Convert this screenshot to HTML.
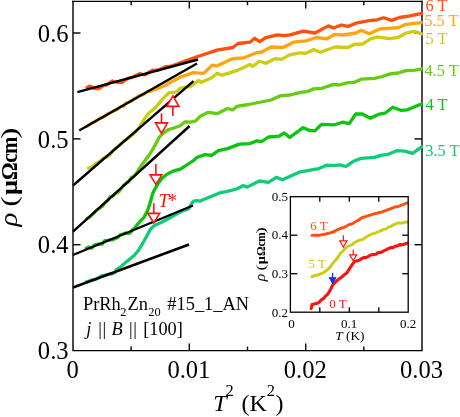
<!DOCTYPE html>
<html><head><meta charset="utf-8"><title>chart</title><style>html,body{margin:0;padding:0;background:#fff}body{width:460px;height:417px;overflow:hidden}svg{will-change:transform}</style></head><body>
<svg width="460" height="417" viewBox="0 0 460 417" style="display:block;font-family:'Liberation Serif',serif">
<rect width="460" height="417" fill="#fff"/>
<path d="M73.0,0.75 V350.6 H422.0 V0.75" fill="none" stroke="#000" stroke-width="1.4" stroke-linejoin="miter"/>
<line x1="72.3" y1="1.35" x2="422.7" y2="1.35" stroke="#000" stroke-width="1.1"/>
<line x1="131.2" y1="350.6" x2="131.2" y2="346.6" stroke="#000" stroke-width="1.4"/>
<line x1="131.2" y1="1.3" x2="131.2" y2="5.3" stroke="#000" stroke-width="1.4"/>
<line x1="189.3" y1="350.6" x2="189.3" y2="343.40000000000003" stroke="#000" stroke-width="1.4"/>
<line x1="189.3" y1="1.3" x2="189.3" y2="8.5" stroke="#000" stroke-width="1.4"/>
<line x1="247.5" y1="350.6" x2="247.5" y2="346.6" stroke="#000" stroke-width="1.4"/>
<line x1="247.5" y1="1.3" x2="247.5" y2="5.3" stroke="#000" stroke-width="1.4"/>
<line x1="305.7" y1="350.6" x2="305.7" y2="343.40000000000003" stroke="#000" stroke-width="1.4"/>
<line x1="305.7" y1="1.3" x2="305.7" y2="8.5" stroke="#000" stroke-width="1.4"/>
<line x1="363.8" y1="350.6" x2="363.8" y2="346.6" stroke="#000" stroke-width="1.4"/>
<line x1="363.8" y1="1.3" x2="363.8" y2="5.3" stroke="#000" stroke-width="1.4"/>
<line x1="73.0" y1="244.7" x2="80.5" y2="244.7" stroke="#000" stroke-width="1.4"/>
<line x1="422.0" y1="244.7" x2="414.5" y2="244.7" stroke="#000" stroke-width="1.4"/>
<line x1="73.0" y1="138.9" x2="80.5" y2="138.9" stroke="#000" stroke-width="1.4"/>
<line x1="422.0" y1="138.9" x2="414.5" y2="138.9" stroke="#000" stroke-width="1.4"/>
<line x1="73.0" y1="33.0" x2="80.5" y2="33.0" stroke="#000" stroke-width="1.4"/>
<line x1="422.0" y1="33.0" x2="414.5" y2="33.0" stroke="#000" stroke-width="1.4"/>
<clipPath id="cp"><rect x="72.3" y="1.3" width="350.5" height="349.3"/></clipPath>
<g clip-path="url(#cp)">
<polyline points="86.4,281.8 89.0,281.0 91.6,280.0 94.2,279.6 96.8,278.9 99.4,277.2 102.0,275.7 104.6,275.6 107.2,274.5 109.8,274.0 112.4,273.9 115.0,272.4 116.2,269.8 121.0,266.5 126.7,261.6 130.5,258.5 134.6,255.0 138.0,251.0 141.2,245.8 144.0,241.0 146.5,236.5 149.2,231.5 150.9,228.9 153.0,226.6 156.0,224.7 161.8,222.2 169.4,218.0 177.0,213.8 183.7,210.4 188.7,208.7 190.4,205.7 192.0,203.0 193.8,201.2 197.1,200.6 200.0,201.2 203.7,199.5 203.7,199.5 219.6,192.9 226.2,191.6 236.7,189.0 243.3,185.5 247.3,187.1 259.2,181.0 268.4,182.3 276.4,177.3 282.4,179.7 300.3,171.8 318.8,168.6 326.7,165.2 333.3,165.7 339.9,164.9 346.0,166.5 353.6,161.2 361.0,158.4 374.6,157.3 380.9,155.4 388.8,154.1 396.7,150.7 404.6,151.2 412.6,153.3 422.0,146.7" fill="none" stroke="#11cc77" stroke-width="3.3" stroke-linejoin="round" stroke-linecap="round"/>
<polyline points="86.4,248.3 89.0,247.1 91.6,248.1 94.2,245.1 96.8,244.4 99.4,243.8 102.0,244.2 104.6,240.7 107.2,240.7 109.8,240.0 112.4,239.9 115.0,238.6 117.6,237.7 120.2,234.9 122.8,234.2 125.4,233.0 128.0,233.5 130.6,232.6 133.2,229.1 134.0,229.0 137.5,224.3 140.8,220.7 144.2,217.1 147.6,210.4 149.2,205.4 150.9,200.3 152.6,193.6 155.1,188.6 157.6,184.4 161.8,178.5 166.9,174.3 173.6,170.9 180.3,169.2 185.4,165.9 190.5,162.5 193.8,160.3 197.2,157.3 205.0,154.6 211.7,155.4 218.3,150.7 227.5,148.6 239.4,144.1 250.0,143.6 256.5,140.9 261.8,141.5 268.4,137.0 279.0,136.2 284.3,133.0 289.7,137.5 303.0,127.7 309.6,130.4 314.9,130.9 321.5,124.3 334.6,124.8 342.6,122.2 349.2,123.6 355.8,114.0 362.4,114.0 370.3,118.2 378.3,114.4 384.9,113.2 392.8,107.2 400.7,110.3 407.3,109.8 422.0,103.7" fill="none" stroke="#0cc40c" stroke-width="3.3" stroke-linejoin="round" stroke-linecap="round"/>
<polyline points="87.0,218.4 89.6,217.3 92.2,214.6 94.8,212.2 97.4,209.4 100.0,208.3 102.6,206.3 105.2,202.4 107.8,200.7 110.4,196.4 113.0,196.1 115.6,193.6 118.2,192.3 120.8,189.4 123.4,185.3 126.0,183.3 128.6,181.8 131.2,177.4 133.8,176.5 136.4,173.2 138.6,169.5 142.5,164.0 143.0,163.5 146.5,158.5 149.5,154.5 152.5,149.7 156.3,142.9 159.2,137.2 162.1,134.3 165.5,131.5 168.8,129.5 174.5,127.8 180.3,125.7 185.1,121.8 190.9,122.2 195.7,120.9 200.5,116.1 206.2,113.2 209.0,112.4 217.0,113.7 227.5,108.5 232.8,109.8 236.7,106.4 248.6,104.5 271.0,100.0 280.3,95.8 290.0,95.0 300.5,92.3 307.0,91.6 313.7,88.9 321.7,88.4 333.5,84.4 338.8,85.0 348.0,82.6 354.6,82.3 361.2,79.2 374.4,78.4 382.3,76.5 390.2,73.9 398.2,73.0 406.0,70.7 415.2,70.1 422.0,68.8" fill="none" stroke="#66cc11" stroke-width="3.3" stroke-linejoin="round" stroke-linecap="round"/>
<polyline points="88.5,168.0 92.0,166.9 96.4,163.3 100.0,161.4 103.0,158.0 106.0,157.4 109.6,155.4 113.5,150.1 118.0,146.4 122.8,142.2 128.0,138.4 133.3,134.3 137.0,130.4 139.9,126.4 143.0,121.0 146.5,115.9 150.0,112.0 154.4,108.8 158.0,104.5 161.0,100.9 165.0,96.5 168.9,93.0 172.0,92.3 175.5,92.2 178.0,90.5 180.0,88.4 183.4,87.5 190.5,86.5 198.5,80.5 201.0,82.6 211.7,77.8 217.0,73.4 222.2,75.2 236.7,70.7 250.0,64.6 252.6,66.5 259.2,61.2 265.8,63.3 275.0,58.6 281.6,59.4 289.5,54.9 300.0,52.8 305.8,53.3 313.7,49.6 320.3,52.2 334.9,47.0 348.0,47.5 354.6,44.3 362.6,44.0 370.5,38.8 377.0,37.0 389.6,38.7 398.5,37.3 406.3,33.0 414.2,31.4 422.0,33.8" fill="none" stroke="#cccc11" stroke-width="3.3" stroke-linejoin="round" stroke-linecap="round"/>
<polyline points="87.0,126.3 89.6,124.4 92.2,122.7 94.8,121.7 97.4,120.0 100.0,118.2 102.6,117.6 105.2,116.0 107.8,113.7 110.4,112.8 113.0,111.2 115.6,110.4 118.2,108.6 120.8,106.4 123.4,106.1 126.0,103.1 128.6,102.2 131.2,101.3 133.8,98.7 136.4,97.8 139.0,95.6 141.6,95.2 144.2,93.9 146.8,92.1 149.4,91.1 150.0,91.5 155.0,89.5 160.0,87.5 165.0,85.5 170.0,82.5 175.0,80.0 180.0,77.3 193.2,72.6 203.7,73.4 212.2,65.2 217.0,66.0 232.8,58.6 243.3,58.0 256.5,52.8 261.8,52.0 271.0,47.0 283.0,47.5 293.5,42.2 300.0,41.4 305.8,40.9 316.4,37.5 327.0,38.8 334.9,34.3 342.8,35.0 356.0,33.0 361.2,30.3 369.2,33.8 379.7,29.0 398.2,27.7 406.0,24.3 422.0,22.6" fill="none" stroke="#ffa511" stroke-width="3.3" stroke-linejoin="round" stroke-linecap="round"/>
<polyline points="87.0,87.4 89.0,86.4 91.0,86.3 93.0,87.9 96.0,88.6 99.3,88.6 101.5,86.7 104.0,85.4 107.0,84.9 109.5,82.9 112.4,81.0 115.0,81.9 118.0,82.4 122.2,82.4 125.0,79.9 128.0,78.4 132.0,77.4 136.0,75.4 139.6,73.7 142.0,74.4 145.0,74.9 148.0,72.9 152.6,70.2 156.0,70.4 160.0,69.4 163.0,67.9 165.7,66.6 169.0,66.7 172.0,65.9 175.0,64.9 178.0,63.9 180.0,62.8 198.5,56.2 217.0,50.1 232.8,47.5 238.0,43.5 250.0,42.2 254.7,38.3 259.7,41.7 265.8,37.7 277.6,34.8 284.2,35.6 290.0,34.8 303.2,31.1 315.0,33.0 328.3,25.9 333.5,28.0 341.5,25.0 348.0,26.4 356.0,23.2 369.2,20.6 377.0,19.8 383.7,17.7 391.6,20.4 399.5,17.5 410.0,15.8 422.0,13.4" fill="none" stroke="#ff5010" stroke-width="3.3" stroke-linejoin="round" stroke-linecap="round"/>
<line x1="77.4" y1="92.2" x2="198" y2="59.5" stroke="#000" stroke-width="2.4"/>
<line x1="79.2" y1="130.5" x2="197" y2="63.5" stroke="#000" stroke-width="2.4"/>
<line x1="73" y1="185.5" x2="193.5" y2="81.2" stroke="#000" stroke-width="2.4"/>
<line x1="73" y1="231.7" x2="189.6" y2="126.0" stroke="#000" stroke-width="2.4"/>
<line x1="73" y1="255.0" x2="193" y2="205.5" stroke="#000" stroke-width="2.4"/>
<line x1="73" y1="287.5" x2="189" y2="244.5" stroke="#000" stroke-width="2.4"/>
</g>
<path d="M155.9,184.4 L150.05,174.9 L161.75,174.9 Z" fill="#fff" stroke="#ff1111" stroke-width="1.6" stroke-linejoin="miter"/><line x1="155.9" y1="174.9" x2="155.9" y2="164.1" stroke="#ff1111" stroke-width="1.6"/>
<path d="M153.8,223.0 L147.95000000000002,213.4 L159.65,213.4 Z" fill="#fff" stroke="#ff1111" stroke-width="1.6" stroke-linejoin="miter"/><line x1="153.8" y1="213.4" x2="153.8" y2="203.20000000000002" stroke="#ff1111" stroke-width="1.6"/>
<path d="M161.5,133.3 L155.5,122.9 L167.5,122.9 Z" fill="#fff" stroke="#ff1111" stroke-width="1.6" stroke-linejoin="miter"/><line x1="161.5" y1="122.9" x2="161.5" y2="113.30000000000001" stroke="#ff1111" stroke-width="1.6"/>
<path d="M172.9,95.9 L166.8,106.4 L179.0,106.4 Z" fill="#fff" stroke="#ff1111" stroke-width="1.6" stroke-linejoin="miter"/><line x1="172.9" y1="106.4" x2="172.9" y2="116.0" stroke="#ff1111" stroke-width="1.6"/>
<text x="68.6" y="359.2" font-size="24.6" text-anchor="end">0.3</text>
<text x="68.6" y="253.3" font-size="24.6" text-anchor="end">0.4</text>
<text x="68.6" y="147.5" font-size="24.6" text-anchor="end">0.5</text>
<text x="68.6" y="41.6" font-size="24.6" text-anchor="end">0.6</text>
<text x="72.6" y="377.6" font-size="24.6" text-anchor="middle">0</text>
<text x="188.9" y="377.6" font-size="24.6" text-anchor="middle">0.01</text>
<text x="305.3" y="377.6" font-size="24.6" text-anchor="middle">0.02</text>
<text x="421.6" y="377.6" font-size="24.6" text-anchor="middle">0.03</text>
<text x="213.2" y="411" font-size="24"><tspan font-style="italic">T</tspan><tspan font-size="16.5" dy="-15.3" dx="-1.0">2</tspan><tspan dy="15.3" dx="1.6"> (K</tspan><tspan font-size="16.5" dy="-15.3">2</tspan><tspan dy="15.3" dx="0.4">)</tspan></text>
<g transform="translate(17,226.8) rotate(-90)"><text x="0.30" y="0" font-size="26.00" font-style="italic" font-weight="normal" textLength="13.80" lengthAdjust="spacingAndGlyphs">ρ</text><text x="20.00" y="0" font-size="24.00" font-style="normal" font-weight="normal" textLength="10.60" lengthAdjust="spacingAndGlyphs">(</text><text x="31.80" y="0" font-size="24.00" font-style="normal" font-weight="bold" textLength="15.00" lengthAdjust="spacingAndGlyphs">μ</text><text x="46.60" y="0" font-size="24.00" font-style="normal" font-weight="bold" textLength="18.00" lengthAdjust="spacingAndGlyphs">Ω</text><text x="64.00" y="0" font-size="24.00" font-style="normal" font-weight="bold" textLength="9.40" lengthAdjust="spacingAndGlyphs">c</text><text x="72.80" y="0" font-size="24.00" font-style="normal" font-weight="bold" textLength="17.20" lengthAdjust="spacingAndGlyphs">m</text><text x="87.90" y="0" font-size="24.00" font-style="normal" font-weight="normal" textLength="11.60" lengthAdjust="spacingAndGlyphs">)</text></g>
<text x="425.4" y="10.7" font-size="16.4" fill="#ff5010">6 T</text>
<text x="424.2" y="26.3" font-size="16.4" fill="#ffa511">5.5 T</text>
<text x="425.4" y="43.8" font-size="16.4" fill="#cccc11">5 T</text>
<text x="424.4" y="75.8" font-size="16.4" fill="#66cc11">4.5 T</text>
<text x="425.4" y="110.0" font-size="16.4" fill="#0cc40c">4 T</text>
<text x="425.2" y="155.6" font-size="16.4" fill="#11cc77">3.5 T</text>
<text x="158.4" y="207.3" font-size="19" fill="#ff1111"><tspan font-style="italic">T</tspan><tspan dx="-1.6">*</tspan></text>
<text y="309.6" font-size="18.4"><tspan x="83.0">PrRh</tspan><tspan x="120.2" font-size="12.4" dy="6.6">2</tspan><tspan x="127.6" dy="-6.6">Zn</tspan><tspan x="148.2" font-size="12.4" dy="6.6">20</tspan><tspan x="167.3" dy="-6.6">#15_1_AN</tspan></text>
<text y="335.4" font-size="18.3"><tspan x="86.2" font-style="italic">j</tspan><tspan x="98.3">|</tspan><tspan x="102.6">|</tspan><tspan x="111.6" font-style="italic">B</tspan><tspan x="129.0">|</tspan><tspan x="133.3">|</tspan><tspan x="143.2">[100]</tspan></text>
<rect x="290.4" y="196.7" width="117.80000000000001" height="115.5" fill="#fff"/>
<clipPath id="ci"><rect x="290.4" y="196.7" width="117.80000000000001" height="115.5"/></clipPath>
<g clip-path="url(#ci)">
<polyline points="312.0,235.4 314.3,235.2 316.6,235.2 318.9,235.4 321.2,234.9 323.6,234.4 326.1,234.0 328.5,233.2 330.1,232.9 331.8,232.3 334.3,231.5 336.8,229.9 339.2,229.1 341.7,227.9 344.0,227.5 346.3,226.3 348.6,224.6 350.9,224.3 353.2,223.2 355.5,221.8 357.9,220.5 360.4,218.7 362.8,217.3 365.2,217.0 367.6,215.8 370.0,215.2 372.3,214.5 374.6,213.6 376.9,213.3 379.3,212.5 381.6,212.1 383.9,211.1 386.1,210.4 388.3,209.5 390.4,208.9 392.6,207.9 394.8,207.0 397.0,206.8 399.2,206.1 401.5,205.2 403.7,204.4 406.0,203.3 408.2,202.5" fill="none" stroke="#ff5010" stroke-width="2.9" stroke-linejoin="round" stroke-linecap="round"/>
<polyline points="312.0,276.7 314.0,275.9 316.0,275.1 318.0,275.0 320.0,274.0 322.5,273.2 325.0,271.5 327.6,269.6 330.1,267.1 332.6,263.5 335.1,260.7 337.6,257.7 340.1,253.7 342.6,251.5 345.2,248.3 347.7,246.5 350.2,245.5 352.7,244.2 355.2,242.2 357.5,241.0 359.7,240.2 362.0,239.7 364.2,238.4 366.4,236.8 368.5,235.8 370.7,234.5 372.9,233.6 375.1,233.4 377.3,232.0 379.5,231.4 381.7,230.4 383.9,229.3 386.1,228.8 388.3,227.2 390.4,226.7 392.6,225.2 394.8,224.4 397.0,223.2 399.2,222.9 401.5,223.2 403.7,222.7 406.0,221.9 408.2,222.0" fill="none" stroke="#cccc11" stroke-width="2.9" stroke-linejoin="round" stroke-linecap="round"/>
<polyline points="311.2,308.5 312.0,304.6 314.2,304.0 316.4,303.6 318.6,302.6 321.9,299.4 323.5,298.8 325.2,296.4 327.5,294.5 330.1,290.3 332.6,285.1 334.7,283.0 336.8,280.7 339.3,278.7 341.8,277.2 344.3,274.7 346.8,273.0 348.5,270.2 350.2,267.6 352.7,263.9 354.5,261.6 356.5,261.1 359.2,260.3 362.0,258.4 364.0,257.5 366.0,257.6 368.0,256.7 370.0,255.3 372.0,254.6 374.0,254.6 376.0,254.2 378.2,252.5 380.4,252.5 382.6,251.6 384.8,250.4 387.0,249.4 389.2,248.2 391.3,247.4 393.4,247.6 395.5,246.1 397.6,245.9 399.7,244.6 401.8,244.9 403.9,244.2 406.1,243.5 408.2,242.9" fill="none" stroke="#ff1111" stroke-width="3.1" stroke-linejoin="round" stroke-linecap="round"/>
</g>
<path d="M343.4,247.0 L339.79999999999995,240.8 L347.0,240.8 Z" fill="#fff" stroke="#ff1111" stroke-width="1.15" stroke-linejoin="miter"/><line x1="343.4" y1="240.8" x2="343.4" y2="235.20000000000002" stroke="#ff1111" stroke-width="1.15"/>
<path d="M353.2,260.6 L349.59999999999997,254.8 L356.8,254.8 Z" fill="#fff" stroke="#ff1111" stroke-width="1.15" stroke-linejoin="miter"/><line x1="353.2" y1="254.8" x2="353.2" y2="249.60000000000002" stroke="#ff1111" stroke-width="1.15"/>
<path d="M332.6,283.9 L329.1,277.4 L336.1,277.4 Z" fill="#1133dd" stroke="#1133dd" stroke-width="0.8"/><line x1="332.6" y1="277.4" x2="332.6" y2="272.8" stroke="#1133dd" stroke-width="1.3"/>
<rect x="290.4" y="196.7" width="117.80000000000001" height="115.5" fill="none" stroke="#000" stroke-width="1.3"/>
<line x1="319.8" y1="312.2" x2="319.8" y2="307.2" stroke="#000" stroke-width="1.3"/>
<line x1="319.8" y1="196.7" x2="319.8" y2="201.7" stroke="#000" stroke-width="1.3"/>
<line x1="349.3" y1="312.2" x2="349.3" y2="307.2" stroke="#000" stroke-width="1.3"/>
<line x1="349.3" y1="196.7" x2="349.3" y2="201.7" stroke="#000" stroke-width="1.3"/>
<line x1="378.8" y1="312.2" x2="378.8" y2="307.2" stroke="#000" stroke-width="1.3"/>
<line x1="378.8" y1="196.7" x2="378.8" y2="201.7" stroke="#000" stroke-width="1.3"/>
<line x1="290.4" y1="273.7" x2="297.4" y2="273.7" stroke="#000" stroke-width="1.3"/>
<line x1="408.2" y1="273.7" x2="402.2" y2="273.7" stroke="#000" stroke-width="1.3"/>
<line x1="290.4" y1="235.2" x2="297.4" y2="235.2" stroke="#000" stroke-width="1.3"/>
<line x1="408.2" y1="235.2" x2="402.2" y2="235.2" stroke="#000" stroke-width="1.3"/>
<text x="288" y="317.2" font-size="13" text-anchor="end">0.2</text>
<text x="288" y="277.9" font-size="13" text-anchor="end">0.3</text>
<text x="288" y="239.2" font-size="13" text-anchor="end">0.4</text>
<text x="288" y="200.5" font-size="13" text-anchor="end">0.5</text>
<text x="291.4" y="328.4" font-size="13" text-anchor="middle">0</text>
<text x="349.1" y="328.4" font-size="13" text-anchor="middle">0.1</text>
<text x="408.0" y="328.4" font-size="13" text-anchor="middle">0.2</text>
<text x="335.2" y="339.8" font-size="13.4"><tspan font-style="italic">T</tspan> (K)</text>
<g transform="translate(264.7,281.5) rotate(-90)"><text x="0.16" y="0" font-size="14.17" font-style="italic" font-weight="normal" textLength="7.52" lengthAdjust="spacingAndGlyphs">ρ</text><text x="10.90" y="0" font-size="13.08" font-style="normal" font-weight="normal" textLength="5.78" lengthAdjust="spacingAndGlyphs">(</text><text x="17.33" y="0" font-size="13.08" font-style="normal" font-weight="bold" textLength="8.18" lengthAdjust="spacingAndGlyphs">μ</text><text x="25.40" y="0" font-size="13.08" font-style="normal" font-weight="bold" textLength="9.81" lengthAdjust="spacingAndGlyphs">Ω</text><text x="34.88" y="0" font-size="13.08" font-style="normal" font-weight="bold" textLength="5.12" lengthAdjust="spacingAndGlyphs">c</text><text x="39.68" y="0" font-size="13.08" font-style="normal" font-weight="bold" textLength="9.37" lengthAdjust="spacingAndGlyphs">m</text><text x="47.91" y="0" font-size="13.08" font-style="normal" font-weight="normal" textLength="6.32" lengthAdjust="spacingAndGlyphs">)</text></g>
<text x="310.2" y="229.6" font-size="13" fill="#ff5010">6 T</text>
<text x="308.6" y="268.4" font-size="13" fill="#cccc11">5 T</text>
<text x="329.2" y="308.3" font-size="13" fill="#ff1111">0 T</text>
</svg>
</body></html>
